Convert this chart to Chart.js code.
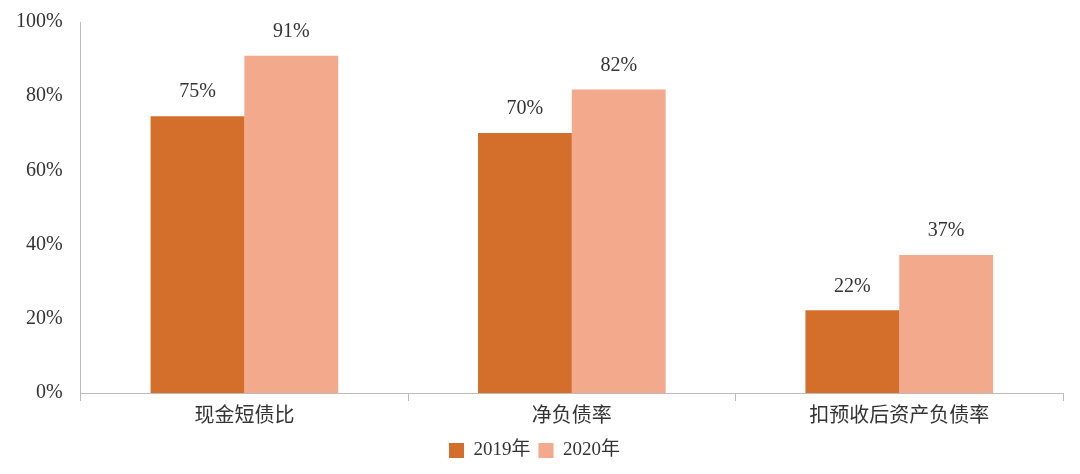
<!DOCTYPE html>
<html>
<head>
<meta charset="utf-8">
<script src="https://cdn.jsdelivr.net/npm/chart.js@4"></script>
<style>
  html, body { margin: 0; padding: 0; background: #fff; }
</style>
</head>
<body>
<canvas id="c" width="1080" height="474"></canvas>
<script>
const categories = ['现金短债比', '净负债率', '扣预收后资产负债率'];
const seriesNames = ['2019年', '2020年'];
const values2019 = [74.6, 70.1, 22.3];
const values2020 = [90.9, 81.8, 37.2];
const yTicks = [0, 20, 40, 60, 80, 100];

const FONT = "'Liberation Serif', 'Noto Sans CJK SC', serif";

// draws the percent labels above each bar
const barLabels = {
    id: 'barLabels',
    afterDatasetsDraw(chart) {
        const ctx = chart.ctx;
        ctx.save();
        ctx.font = '20px ' + FONT;
        ctx.fillStyle = '#333';
        ctx.textAlign = 'center';
        ctx.textBaseline = 'bottom';
        chart.data.datasets.forEach((ds, i) => {
            chart.getDatasetMeta(i).data.forEach((bar, j) => {
                ctx.fillText(Math.round(ds.data[j]) + '%', bar.x, bar.y - 14);
            });
        });
        ctx.restore();
    }
};

new Chart(document.getElementById('c'), {
    type: 'bar',
    data: {
        labels: categories,
        datasets: [
            { label: seriesNames[0], data: values2019, backgroundColor: '#D36F2B' },
            { label: seriesNames[1], data: values2020, backgroundColor: '#F2A98C' }
        ]
    },
    options: {
        responsive: false,
        animation: false,
        devicePixelRatio: 1,
        layout: { padding: { top: 20, right: 17, left: 6, bottom: 4 } },
        datasets: { bar: { categoryPercentage: 0.573, barPercentage: 1 } },
        plugins: {
            tooltip: { enabled: false },
            legend: {
                position: 'bottom',
                labels: {
                    font: { family: FONT, size: 19 },
                    color: '#333',
                    boxWidth: 15, boxHeight: 15,
                    padding: 8
                }
            }
        },
        scales: {
            x: {
                grid: { display: true, drawOnChartArea: false, offset: true, tickLength: 8, color: '#bbb' },
                border: { color: '#bbb' },
                ticks: { font: { family: FONT, size: 20 }, color: '#333', padding: 4 }
            },
            y: {
                min: 0, max: 100,
                afterBuildTicks(axis) { axis.ticks = yTicks.map(v => ({ value: v })); },
                grid: { display: false },
                border: { color: '#bbb' },
                ticks: {
                    font: { family: FONT, size: 20 }, color: '#333', padding: 10,
                    callback: v => v + '%'
                }
            }
        }
    },
    plugins: [barLabels]
});
</script>
</body>
</html>
